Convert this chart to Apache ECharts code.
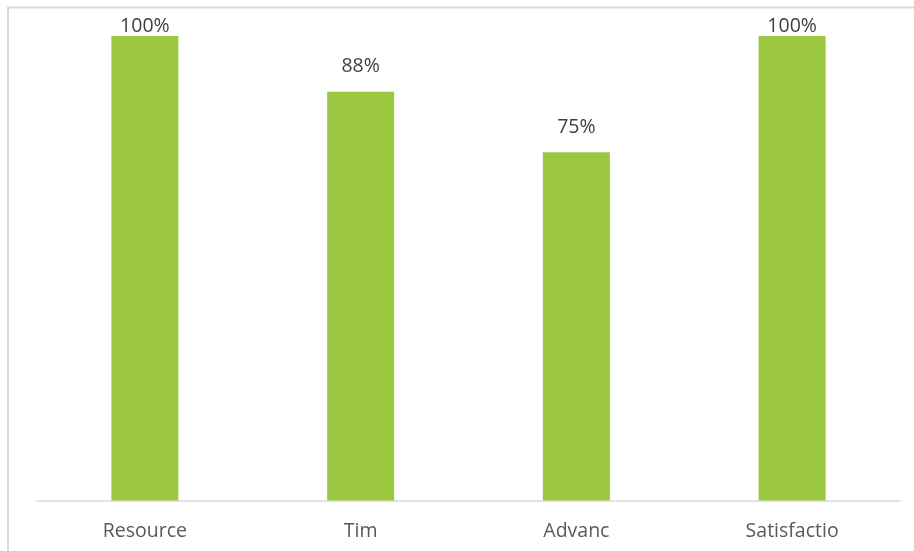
<!DOCTYPE html>
<html>
<head>
<meta charset="utf-8">
<script src="https://cdn.jsdelivr.net/npm/echarts@6/dist/echarts.min.js"></script>
<style>html,body{margin:0;padding:0;background:#fff}#c{width:914px;height:551px}</style>
</head>
<body>
<div id="c"></div>
<script>
const categories = ["Resource", "Tim", "Advanc", "Satisfactio"];
const values = [1.00, 0.88, 0.75, 1.00];

const chart = echarts.init(document.getElementById('c'), null, {renderer: 'canvas'});
const data = values.map(v => ({
  value: v,
  label: { distance: v >= 0.99 ? 0 : 15 }
}));
chart.setOption({
  animation: false,
  backgroundColor: '#ffffff',
  graphic: [{
    type: 'rect',
    shape: { x: 8, y: 7.5, width: 1000, height: 1000 },
    style: { fill: 'none', stroke: '#d9d9d9', lineWidth: 2 },
    silent: true
  }],
  grid: { left: 37, right: 14, top: 36, bottom: 50.5, containLabel: false },
  xAxis: {
    type: 'category',
    data: categories,
    axisLine: { show: true, lineStyle: { color: '#d9d9d9', width: 1.5 } },
    axisTick: { show: false },
    axisLabel: { color: '#595959', fontFamily: 'Open Sans', fontSize: 19.5, margin: 21 }
  },
  yAxis: {
    type: 'value',
    min: 0, max: 1,
    show: false,
    splitLine: { show: false }
  },
  series: [{
    type: 'bar',
    data: data,
    barWidth: 67,
    itemStyle: { color: '#9bc741' },
    label: {
      show: true,
      position: 'top',
      color: '#404040',
      fontFamily: 'Open Sans',
      fontSize: 19.5,
      formatter: p => Math.round(p.value * 100) + '%'
    }
  }]
});
</script>
</body>
</html>
